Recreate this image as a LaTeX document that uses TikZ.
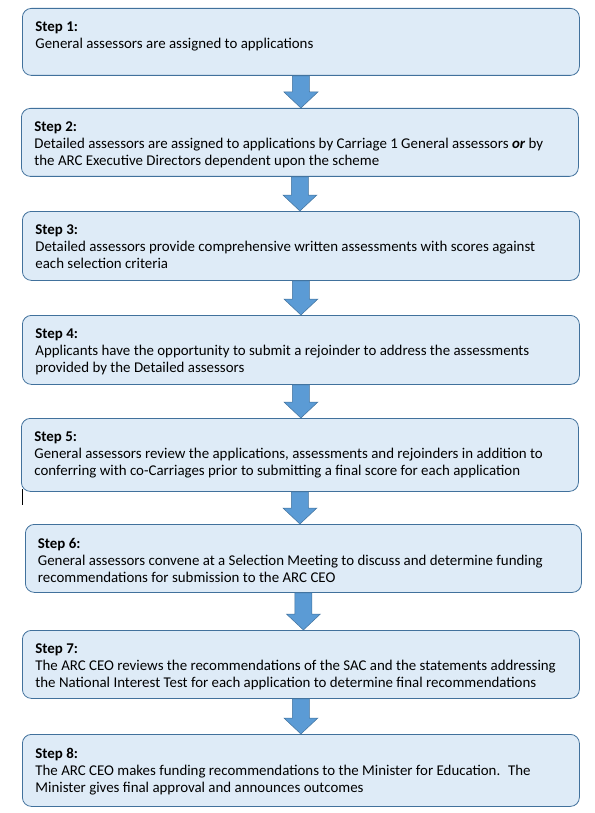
\documentclass[tikz,border=0pt]{standalone}
\usepackage{fontspec}
\setmainfont{Carlito}
\usepackage{tikz}
\usetikzlibrary{calc}
\definecolor{boxfill}{HTML}{DEEBF7}
\definecolor{boxline}{HTML}{41719C}
\definecolor{arrowfill}{HTML}{5B9BD5}
\newcommand{\stagetext}[3]{\parbox[c][#1][t]{531pt}{\textbf{#2}\\#3}}

\tikzset{
  stage/.style={draw=boxline, fill=boxfill, line width=0.8pt, rounded corners=9pt,
    anchor=north west, inner xsep=12.5pt, inner ysep=13.5pt, minimum width=557pt,
    font=\fontsize{14.9pt}{17pt}\selectfont},
  flowarrow/.style={fill=arrowfill, draw=boxline, line width=0.5pt, line join=miter}
}
\newcommand{\flow}[2]{%
  \draw[flowarrow] ([xshift=-8.5pt]#1.south)
    -- ([xshift=-8.5pt,yshift=16pt]#1.south |- #2.north)
    -- ([xshift=-17pt,yshift=16pt]#1.south |- #2.north)
    -- (#1.south |- #2.north)
    -- ([xshift=17pt,yshift=16pt]#1.south |- #2.north)
    -- ([xshift=8.5pt,yshift=16pt]#1.south |- #2.north)
    -- ([xshift=8.5pt]#1.south) -- cycle;}

\begin{document}
\begin{tikzpicture}[x=1pt, y=1pt]
    \useasboundingbox (0,0) rectangle (594,-813);

    \node[stage] (s1) at (22,-8) {\stagetext{40pt}{Step 1:}{General assessors are assigned to applications}};
    \node[stage] (s2) at (21,-108) {\stagetext{41pt}{Step 2:}{Detailed assessors are assigned to applications by Carriage 1 General assessors \textbf{\textit{or}} by\\the ARC Executive Directors dependent upon the scheme}};
    \node[stage] (s3) at (22,-211) {\stagetext{42pt}{Step 3:}{Detailed assessors provide comprehensive written assessments with scores against\\each selection criteria}};
    \node[stage] (s4) at (22,-315) {\stagetext{42pt}{Step 4:}{Applicants have the opportunity to submit a rejoinder to address the assessments\\provided by the Detailed assessors}};
    \node[stage] (s5) at (21,-418) {\stagetext{46pt}{Step 5:}{General assessors review the applications, assessments and rejoinders in addition to\\conferring with co-Carriages prior to submitting a final score for each application}};
    \node[stage, minimum width=554pt] (s6) at (25,-524) {\stagetext{41pt}{Step 6:}{General assessors convene at a Selection Meeting to discuss and determine funding\\recommendations for submission to the ARC CEO}};
    \node[stage] (s7) at (22,-630) {\stagetext{41pt}{Step 7:}{The ARC CEO reviews the recommendations of the SAC and the statements addressing\\the National Interest Test for each application to determine final recommendations}};
    \node[stage] (s8) at (22,-734) {\stagetext{45pt}{Step 8:}{The ARC CEO makes funding recommendations to the Minister for Education.~ The\\Minister gives final approval and announces outcomes}};

    \flow{s1}{s2}
    \flow{s2}{s3}
    \flow{s3}{s4}
    \flow{s4}{s5}
    \flow{s5}{s6}
    \flow{s6}{s7}
    \flow{s7}{s8}

    % stray mark left of step 6
    \coordinate (m1) at (22,-489);
    \coordinate (m2) at (22,-505);
    \draw[line width=0.8pt] (m1) -- (m2);
\end{tikzpicture}
\end{document}
